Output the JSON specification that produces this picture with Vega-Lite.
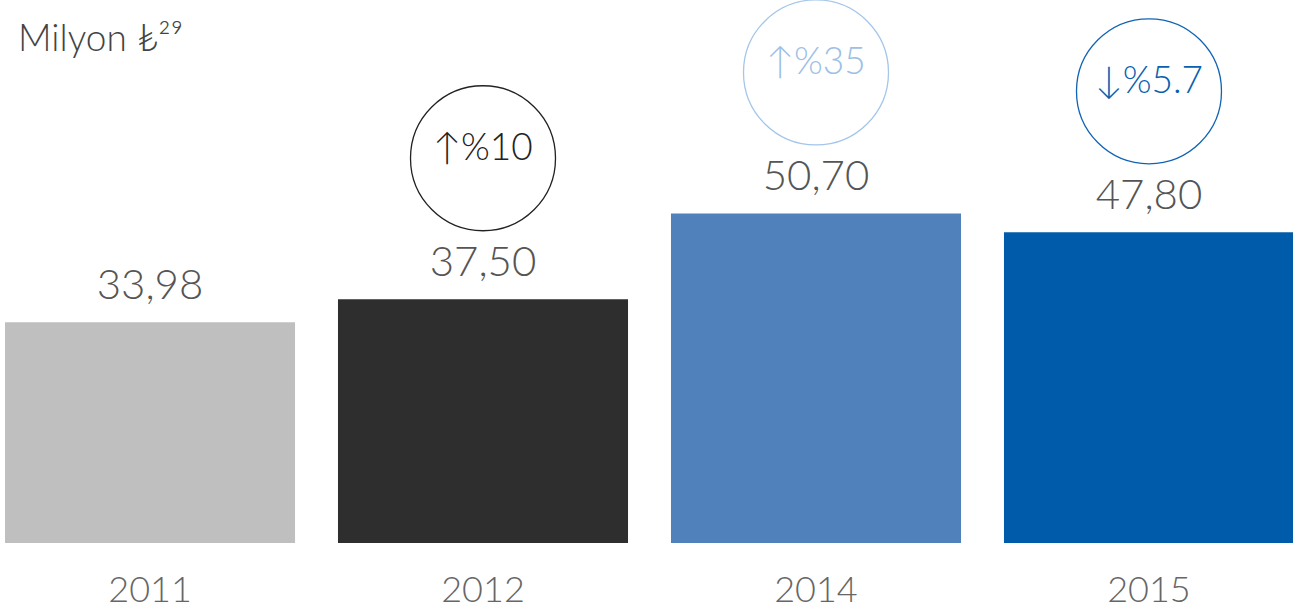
{
  "$schema": "https://vega.github.io/schema/vega-lite/v6.json",
  "autosize": "none",
  "padding": {"left": 0, "top": 0, "right": 0, "bottom": 67},
  "width": 1293,
  "height": 543,
  "background": "white",
  "config": {"view": {"stroke": null}, "font": "Lato"},
  "title": {
    "text": "Milyon ₺²⁹",
    "anchor": "start",
    "frame": "group",
    "offset": -62,
    "dx": 18,
    "fontSize": 37,
    "fontWeight": 300,
    "font": "Lato",
    "color": "#444444"
  },
  "data": {
    "values": [
      {"year": "2011", "value": 33.98, "label": "33,98", "change": null},
      {"year": "2012", "value": 37.50, "label": "37,50", "change": "↑%10"},
      {"year": "2014", "value": 50.70, "label": "50,70", "change": "↑%35"},
      {"year": "2015", "value": 47.80, "label": "47,80", "change": "↓%5.7"}
    ]
  },
  "encoding": {
    "x": {
      "field": "year",
      "type": "nominal",
      "sort": null,
      "scale": {"range": [0, 1299], "paddingInner": 0.129, "paddingOuter": 0.015},
      "axis": {
        "title": null,
        "domain": false,
        "ticks": false,
        "labelAngle": 0,
        "labelFontSize": 36,
        "labelFont": "Lato",
        "labelFontWeight": 300,
        "labelColor": "#666666",
        "labelPadding": 30
      }
    },
    "y": {
      "field": "value",
      "type": "quantitative",
      "scale": {"domain": [0, 83.54], "nice": false},
      "axis": null
    }
  },
  "layer": [
    {
      "mark": {"type": "bar"},
      "encoding": {
        "fill": {
          "field": "year",
          "type": "nominal",
          "scale": {"domain": ["2011", "2012", "2014", "2015"], "range": ["#bfbfbf", "#2e2e2e", "#5081bb", "#005bab"]},
          "legend": null
        }
      }
    },
    {
      "mark": {"type": "text", "dy": -36, "baseline": "middle", "fontSize": 42, "fontWeight": 300, "font": "Lato", "color": "#555555"},
      "encoding": {"text": {"field": "label"}}
    },
    {
      "transform": [{"filter": "datum.change != null"}],
      "mark": {"type": "point", "shape": "circle", "filled": false, "size": 21025, "strokeWidth": 1.3, "yOffset": -141, "opacity": 1},
      "encoding": {
        "stroke": {
          "field": "year",
          "type": "nominal",
          "scale": {"domain": ["2012", "2014", "2015"], "range": ["#222222", "#a3c6ea", "#1164b4"]},
          "legend": null
        }
      }
    },
    {
      "transform": [{"filter": "datum.change != null"}],
      "mark": {"type": "text", "dy": -150, "baseline": "middle", "fontSize": 37, "fontWeight": 300, "font": "Lato"},
      "encoding": {
        "text": {"field": "change"},
        "fill": {
          "field": "year",
          "type": "nominal",
          "scale": {"domain": ["2012", "2014", "2015"], "range": ["#222222", "#9dc0e6", "#0a5fb0"]},
          "legend": null
        }
      }
    }
  ],
  "resolve": {"scale": {"fill": "independent"}}
}
